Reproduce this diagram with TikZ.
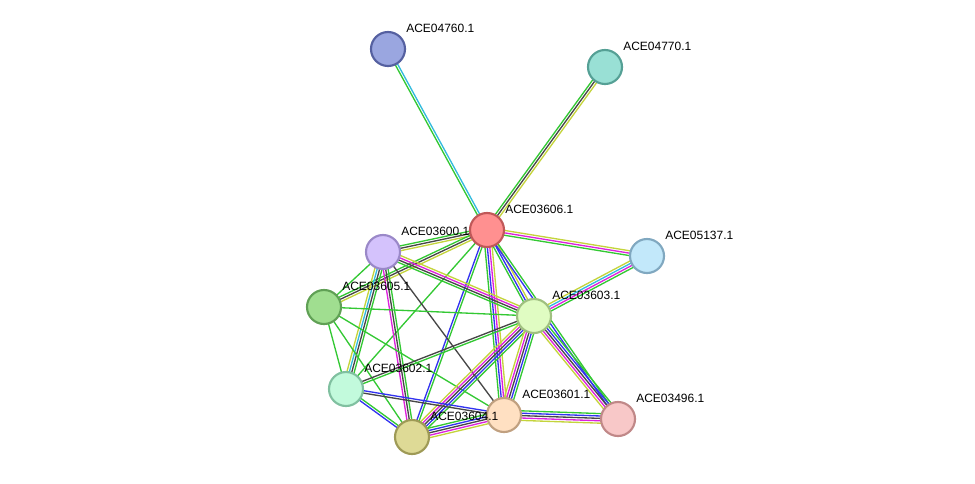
\documentclass[tikz,border=0pt]{standalone}
\usepackage{fontspec}
\setmainfont{Liberation Sans}
\usetikzlibrary{calc,backgrounds}

\definecolor{sgreen}{HTML}{33C833}
\definecolor{sblue}{HTML}{3333F0}
\definecolor{sblack}{HTML}{474747}
\definecolor{smag}{HTML}{DD22DD}
\definecolor{scyan}{HTML}{33BBDD}
\definecolor{syel}{HTML}{C4D43C}

% node fills and rims
\definecolor{f04760}{HTML}{9AA6E0}\definecolor{d04760}{HTML}{5560A0}
\definecolor{f04770}{HTML}{99E0D5}\definecolor{d04770}{HTML}{55A095}
\definecolor{f03606}{HTML}{FF9090}\definecolor{d03606}{HTML}{C05858}
\definecolor{f03600}{HTML}{D4C2FC}\definecolor{d03600}{HTML}{9A88C8}
\definecolor{f05137}{HTML}{C2E8FA}\definecolor{d05137}{HTML}{80A8C0}
\definecolor{f03605}{HTML}{A0DE90}\definecolor{d03605}{HTML}{60A055}
\definecolor{f03603}{HTML}{E0FCC2}\definecolor{d03603}{HTML}{A0C080}
\definecolor{f03602}{HTML}{C2FADC}\definecolor{d03602}{HTML}{80C0A0}
\definecolor{f03601}{HTML}{FFE0C2}\definecolor{d03601}{HTML}{C0A080}
\definecolor{f03496}{HTML}{F8C8C8}\definecolor{d03496}{HTML}{C08888}
\definecolor{f03604}{HTML}{DEDA96}\definecolor{d03604}{HTML}{9E9A56}

\tikzset{
  prot/.style={circle, line width=1.6pt, minimum size=25.5pt, inner sep=0pt},
  protlabel/.style={anchor=west, inner sep=0pt, font=\fontsize{9}{10}\selectfont},
  evidence/.style={line width=1pt},
}

% protein node with its name beside it
\newcommand\protein[4]{%
  \node[prot, fill=f#1, draw=d#1] (p#1) at (#2,#3) {};
  \node[protlabel] (p#1-lbl) at ($(p#1)+(18,-21)$) {#4};
}

% bundle of parallel evidence lines between two proteins
\newcommand\stringedge[3]{%
  \foreach \c [count=\k] in {#3} {\xdef\edgen{\k}}
  \foreach \c [count=\k] in {#3} {
    \pgfmathsetmacro\off{(\k-(\edgen+1)/2)*1.8}
    \draw[evidence, \c] ($(#1)!\off pt!90:(#2)$) -- ($(#2)!\off pt!-90:(#1)$);
  }
}

\begin{document}
\begin{tikzpicture}[x=0.75pt, y=-0.75pt]
  \useasboundingbox (0,0) rectangle (975,483);

  \protein{04760}{388}{49}{ACE04760.1}
  \protein{04770}{605}{67}{ACE04770.1}
  \protein{03606}{487}{230}{ACE03606.1}
  \protein{03600}{383}{252}{ACE03600.1}
  \protein{05137}{647}{256}{ACE05137.1}
  \protein{03605}{324}{307}{ACE03605.1}
  \protein{03603}{534}{316}{ACE03603.1}
  \protein{03602}{346}{389}{ACE03602.1}
  \protein{03601}{504}{415}{ACE03601.1}
  \protein{03496}{618}{419}{ACE03496.1}
  \protein{03604}{412}{437}{ACE03604.1}

  \begin{pgfonlayer}{background}
    \stringedge{p04760}{p03606}{sgreen,scyan}
    \stringedge{p04770}{p03606}{sgreen,sblack,syel}
    \stringedge{p03606}{p05137}{sgreen,smag,syel}
    \stringedge{p05137}{p03603}{syel,scyan,smag,sgreen}
    \stringedge{p03606}{p03600}{sgreen,sblack,syel}
    \stringedge{p03606}{p03605}{sgreen,sblack,syel}
    \stringedge{p03606}{p03603}{sgreen,sblue,syel}
    \stringedge{p03606}{p03496}{sblue,sgreen}
    \stringedge{p03606}{p03601}{sgreen,sblue,smag,syel}
    \stringedge{p03606}{p03604}{sblue,sgreen}
    \stringedge{p03606}{p03602}{sgreen}
    \stringedge{p03600}{p03603}{sgreen,sblack,smag,syel}
    \stringedge{p03600}{p03605}{sgreen}
    \stringedge{p03600}{p03602}{syel,scyan,sblack,sgreen}
    \stringedge{p03600}{p03604}{smag,sblack,sgreen}
    \stringedge{p03600}{p03601}{sblack}
    \stringedge{p03605}{p03603}{sgreen}
    \stringedge{p03605}{p03602}{sgreen}
    \stringedge{p03605}{p03604}{sgreen}
    \stringedge{p03605}{p03601}{sgreen}
    \stringedge{p03603}{p03602}{sblack,sgreen}
    \stringedge{p03603}{p03604}{syel,smag,sblack,sblue,sgreen}
    \stringedge{p03603}{p03601}{syel,smag,sblack,sblue,sgreen}
    \stringedge{p03603}{p03496}{syel,smag,sblack,sblue,sgreen}
    \stringedge{p03602}{p03601}{sblack,sblue}
    \stringedge{p03602}{p03604}{sblue,sgreen}
    \stringedge{p03604}{p03601}{syel,smag,sblack,sblue,sgreen}
    \stringedge{p03601}{p03496}{syel,smag,sblack,sblue,sgreen}
  \end{pgfonlayer}
\end{tikzpicture}
\end{document}
